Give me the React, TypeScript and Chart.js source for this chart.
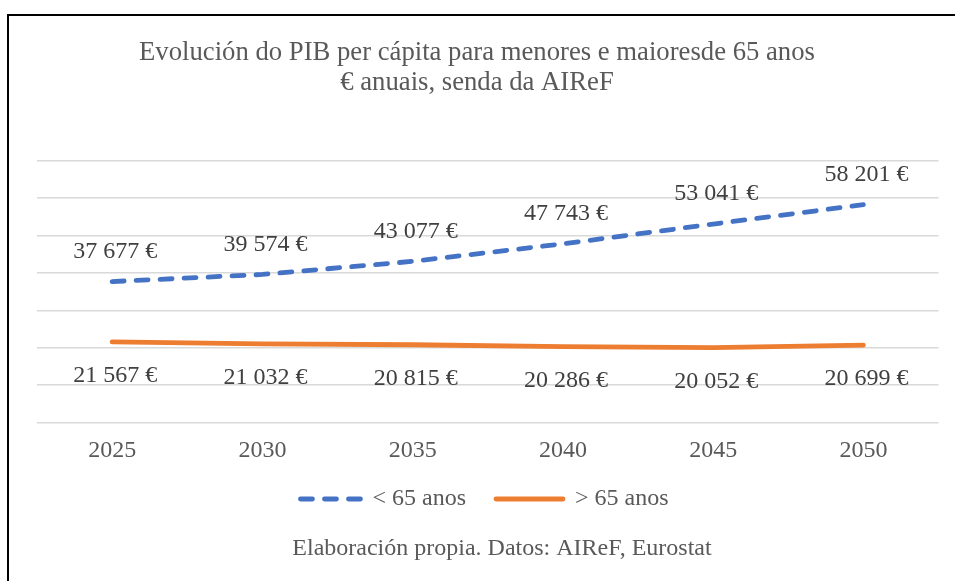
import React, { useEffect, useRef } from 'react';
import { Chart, registerables } from 'chart.js';

Chart.register(...registerables);

const categories = ['2025', '2030', '2035', '2040', '2045', '2050'];
const under65 = [37677, 39574, 43077, 47743, 53041, 58201];
const over65 = [21567, 21032, 20815, 20286, 20052, 20699];
const seriesNames = ['< 65 anos', '> 65 anos'];
const titleLines = ['Evolución do PIB per cápita para menores e maioresde 65 anos', '€ anuais, senda da AIReF'];
const sourceText = 'Elaboración propia. Datos: AIReF, Eurostat';
const yMin = 0;
const yMax = 70000;
const yStep = 10000;

const SERIF = "'Liberation Serif', 'Times New Roman', serif";
const BLUE = '#4472C4';
const ORANGE = '#ED7D31';

const fmt = (v: number) => String(Math.round(v)).replace(/\B(?=(\d{3})+(?!\d))/g, ' ') + ' €';

const framePlugin = {
  id: 'frame',
  beforeDraw(chart: any) {
    const { ctx, width, height } = chart;
    ctx.save();
    ctx.fillStyle = '#ffffff';
    ctx.fillRect(0, 0, width, height);
    ctx.fillStyle = '#000000';
    ctx.fillRect(7, 14, width - 7, 2);
    ctx.fillRect(7, 14, 2, height - 14);
    ctx.restore();
  },
};

const legendShiftPlugin = {
  id: 'legendShift',
  afterLayout(chart: any) {
    const dx = 4;
    if (chart.legend) {
      chart.legend.left += dx;
      chart.legend.right += dx;
    }
  },
};

const valueLabelPlugin = {
  id: 'valueLabels',
  afterDatasetsDraw(chart: any) {
    const { ctx } = chart;
    ctx.save();
    ctx.font = `24px ${SERIF}`;
    ctx.fillStyle = '#404040';
    ctx.textAlign = 'center';
    ctx.textBaseline = 'middle';
    chart.data.datasets.forEach((ds: any, di: number) => {
      const meta = chart.getDatasetMeta(di);
      meta.data.forEach((pt: any, i: number) => {
        const v = ds.data[i] as number;
        const dy = di === 0 ? -30 : 34;
        ctx.fillText(fmt(v), pt.x + 3, pt.y + dy);
      });
    });
    ctx.restore();
  },
};

const sourcePlugin = {
  id: 'sourceText',
  afterDraw(chart: any) {
    const { ctx } = chart;
    ctx.save();
    ctx.font = `24px ${SERIF}`;
    ctx.fillStyle = '#595959';
    ctx.textAlign = 'center';
    ctx.textBaseline = 'middle';
    ctx.fillText(sourceText, 502, 548.7);
    ctx.restore();
  },
};

export default function App() {
  const canvasRef = useRef<HTMLCanvasElement | null>(null);

  useEffect(() => {
    const canvas = canvasRef.current;
    if (!canvas) return;
    const chart = new Chart(canvas, {
      type: 'line',
      data: {
        labels: categories,
        datasets: [
          {
            label: seriesNames[0],
            data: under65,
            borderColor: BLUE,
            backgroundColor: BLUE,
            borderWidth: 4.8,
            borderDash: [12, 12],
            borderCapStyle: 'round',
            borderJoinStyle: 'round',
            pointRadius: 0,
            tension: 0,
            fill: false,
          },
          {
            label: seriesNames[1],
            data: over65,
            borderColor: ORANGE,
            backgroundColor: ORANGE,
            borderWidth: 4.8,
            borderCapStyle: 'round',
            borderJoinStyle: 'round',
            pointRadius: 0,
            tension: 0,
            fill: false,
          },
        ],
      },
      options: {
        responsive: false,
        animation: false,
        devicePixelRatio: 1,
        layout: { padding: { left: 15.5, right: 16.5, top: 0, bottom: 60 } },
        scales: {
          x: {
            offset: true,
            grid: { display: false, drawTicks: false },
            border: { display: false },
            ticks: {
              color: '#595959',
              font: { family: SERIF, size: 24 },
              padding: 14,
            },
            afterFit: (scale: any) => {
              scale.height = 34.3;
            },
          },
          y: {
            min: yMin,
            max: yMax,
            ticks: { display: false, stepSize: yStep },
            grid: { color: '#d9d9d9', lineWidth: 1.5, drawTicks: false },
            border: { display: false },
            afterFit: (scale: any) => {
              scale.width = 21.5;
            },
          },
        },
        plugins: {
          title: {
            display: true,
            text: titleLines,
            color: '#595959',
            font: { family: SERIF, size: 26.7, weight: 'normal', lineHeight: 30.5 / 26.7 },
            padding: { top: 37.3, bottom: 62.2 },
          },
          legend: {
            display: true,
            position: 'bottom',
            labels: {
              usePointStyle: true,
              pointStyle: 'line',
              pointStyleWidth: 67,
              padding: 30,
              color: '#595959',
              font: { family: SERIF, size: 24 },
              generateLabels: (ch: any) =>
                Chart.defaults.plugins.legend.labels
                  .generateLabels(ch)
                  .map((item: any) => {
                    const ds: any = ch.data.datasets[item.datasetIndex];
                    const dash = ds.borderDash || [];
                    return {
                      ...item,
                      lineDash: dash,
                      lineDashOffset: dash.length ? 17 : 0,
                      lineCap: 'round',
                      lineWidth: ds.borderWidth,
                      strokeStyle: ds.borderColor,
                    };
                  }),
            },
          },
          tooltip: { enabled: false },
        },
      },
      plugins: [framePlugin, legendShiftPlugin, valueLabelPlugin, sourcePlugin],
    } as any);
    return () => chart.destroy();
  }, []);

  return (
    <canvas
      ref={canvasRef}
      width={955}
      height={581}
      style={{ position: 'absolute', left: 0, top: 0, width: 955, height: 581, display: 'block' }}
    />
  );
}
